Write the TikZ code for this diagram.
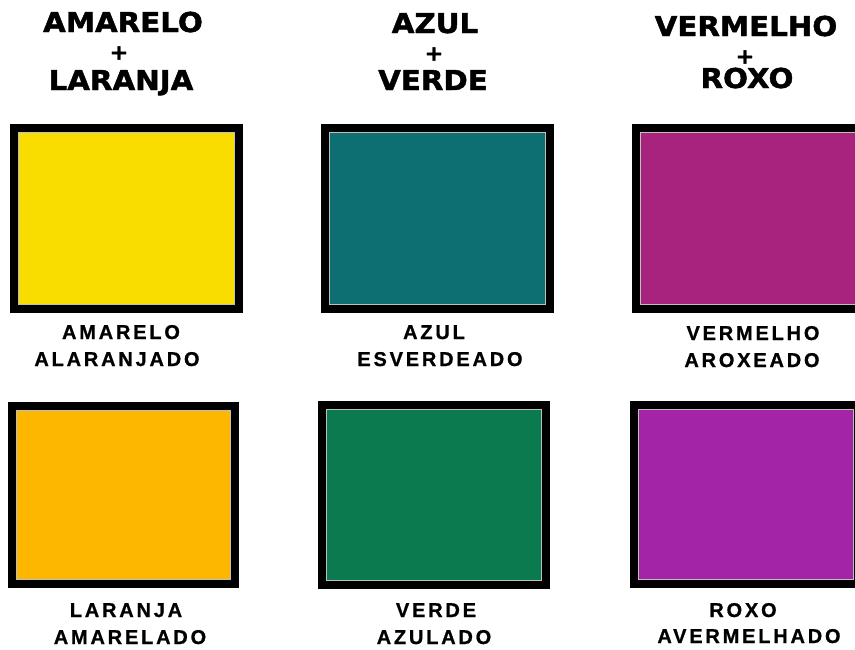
\documentclass[tikz,border=0pt]{standalone}
\usepackage{fontspec}
\newfontfamily\headfont{DejaVu Sans Bold}[FakeStretch=1.07, FakeBold=1.6]
\newfontfamily\lblfont{Liberation Sans Bold}[LetterSpace=14, FakeBold=0.8]
\definecolor{cyellow}{RGB}{249,220,0}
\definecolor{cteal}{RGB}{14,111,114}
\definecolor{cmagenta}{RGB}{168,35,126}
\definecolor{corange}{RGB}{253,183,0}
\definecolor{cgreen}{RGB}{11,122,78}
\definecolor{cpurple}{RGB}{164,36,168}
\tikzset{
  swatch/.style={draw=black, line width=8pt, minimum width=225pt, minimum height=181pt, inner sep=0pt},
  innerline/.style={draw=black!25, line width=1pt},
  head/.style={font=\headfont\fontsize{27.4}{30}\selectfont, anchor=base, inner sep=0pt},
  plus/.style={font=\headfont\fontsize{21}{22}\selectfont, anchor=center, inner sep=0pt},
  lbl/.style={font=\lblfont\fontsize{20}{22}\selectfont, anchor=base, inner sep=0pt}
}
\begin{document}
\begin{tikzpicture}[x=1pt,y=-1pt]
\useasboundingbox (0,0) rectangle (855,649);
\clip (0,0) rectangle (855,649);
\fill[white] (0,0) rectangle (855,649);
% headings
\node[head] (h1a) at (123,32) {AMARELO};
\node[plus] (h1b) at (119,53) {+};
\node[head] (h1c) at (121,90) {LARANJA};
\node[head] (h2a) at (435,33) {AZUL};
\node[plus] (h2b) at (434,54) {+};
\node[head] (h2c) at (433,90) {VERDE};
\node[head] (h3a) at (746,36) {VERMELHO};
\node[plus] (h3b) at (745,57) {+};
\node[head] (h3c) at (747,88) {ROXO};
% swatches
\node[swatch, fill=cyellow] (b1) at (126.5,218.5) {};
\node[swatch, fill=cteal] (b2) at (437,218.5) {};
\node[swatch, fill=cmagenta] (b3) at (748.5,218.5) {};
\node[swatch, fill=corange, minimum width=223pt, minimum height=178pt] (b4) at (123.5,495) {};
\node[swatch, fill=cgreen, minimum width=224pt, minimum height=180pt] (b5) at (434,495) {};
\node[swatch, fill=cpurple, minimum width=224pt, minimum height=179pt] (b6) at (746,494.5) {};
\foreach \b in {b1,b2,b3,b4,b5,b6}{
  \draw[innerline] ([shift={(8.5,8.5)}]\b.north west) rectangle ([shift={(-8.5,-8.5)}]\b.south east);
}
% labels
\node[lbl] (l1a) at (121,339) {AMARELO};
\node[lbl] (l1b) at (117,366) {ALARANJADO};
\node[lbl] (l2a) at (434,339) {AZUL};
\node[lbl] (l2b) at (440,366) {ESVERDEADO};
\node[lbl] (l3a) at (753,340) {VERMELHO};
\node[lbl] (l3b) at (752,367) {AROXEADO};
\node[lbl] (l4a) at (126,617) {LARANJA};
\node[lbl] (l4b) at (130,644) {AMARELADO};
\node[lbl] (l5a) at (436,617) {VERDE};
\node[lbl] (l5b) at (434,644) {AZULADO};
\node[lbl] (l6a) at (743,617) {ROXO};
\node[lbl] (l6b) at (749,643) {AVERMELHADO};
\end{tikzpicture}
\end{document}
